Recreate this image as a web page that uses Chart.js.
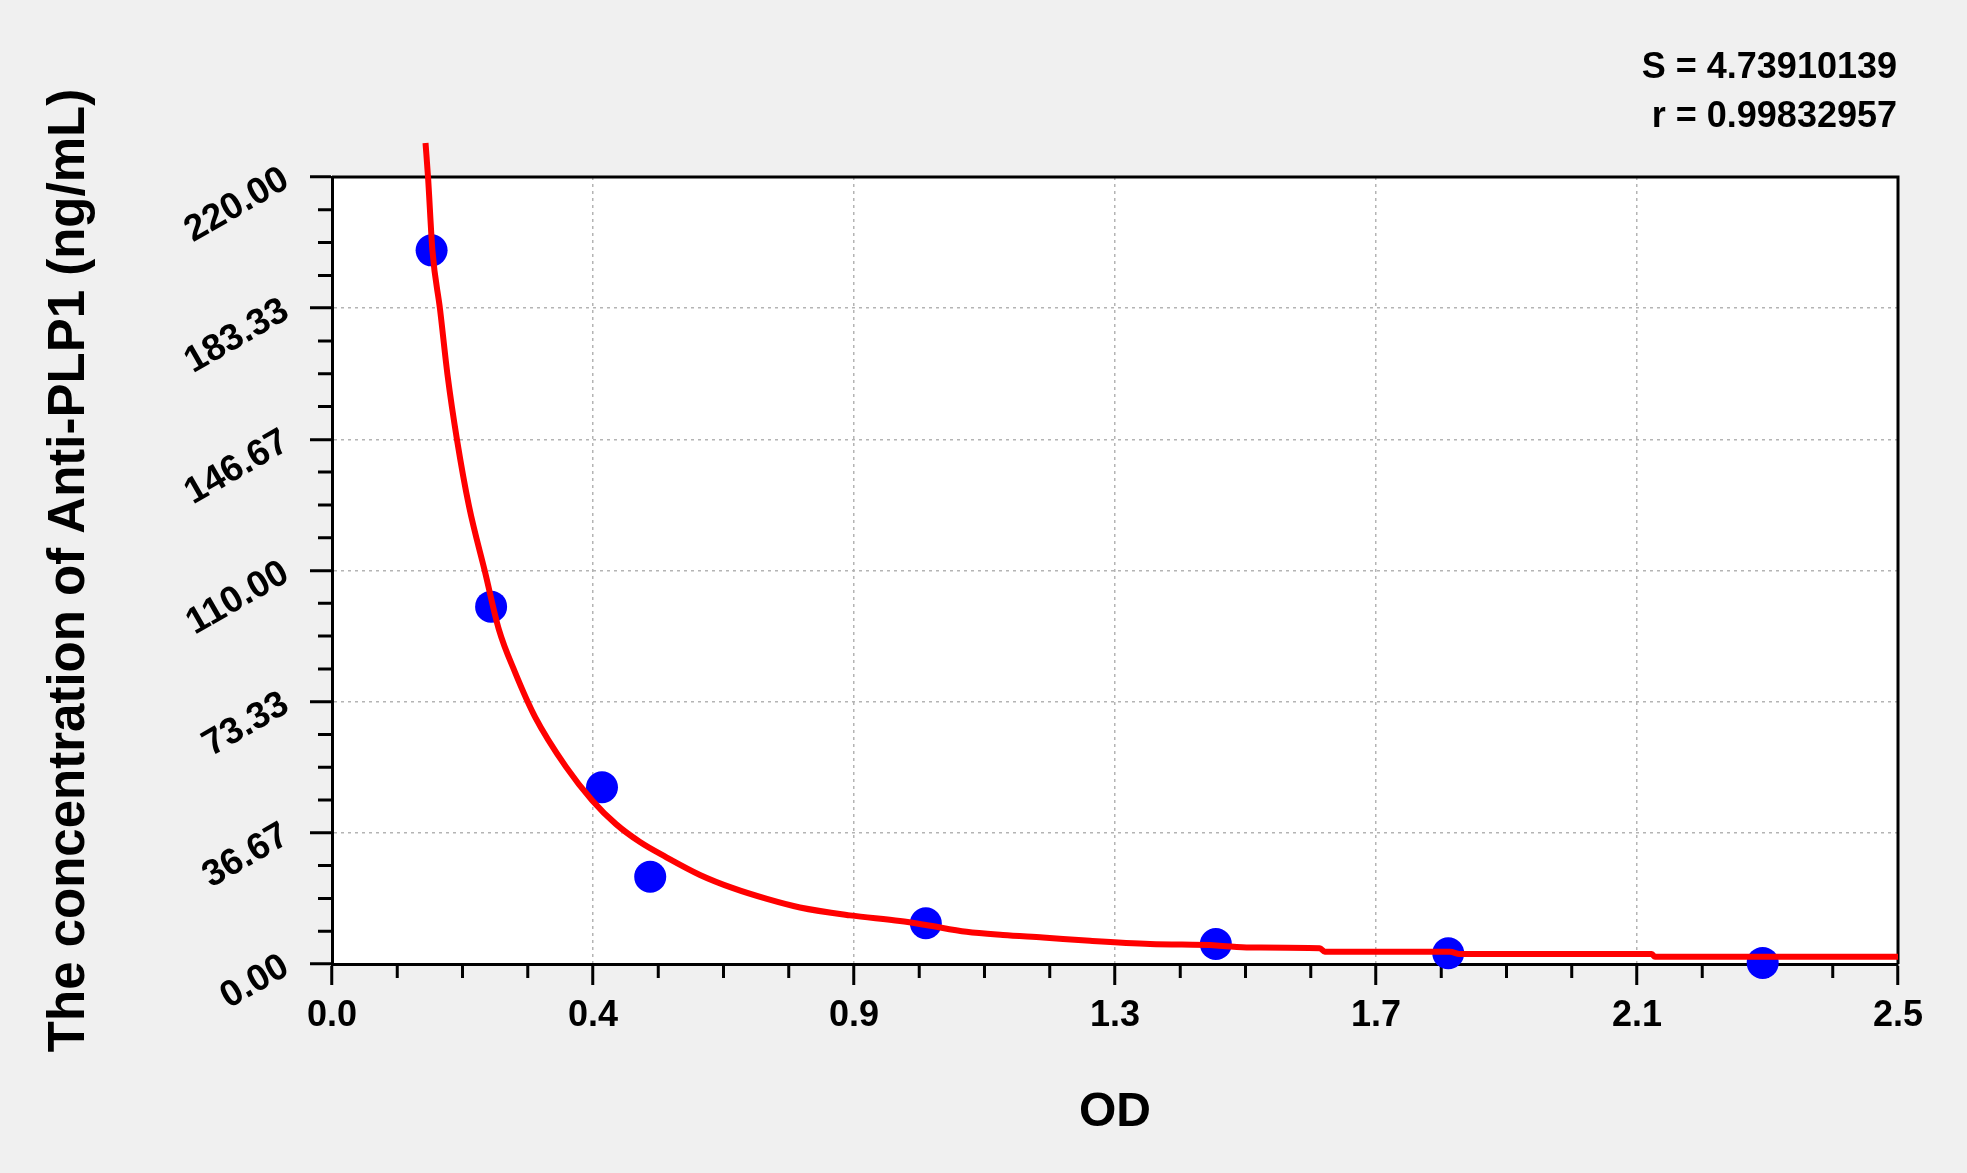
<!DOCTYPE html>
<html>
<head>
<meta charset="utf-8">
<title>Anti-PLP1 standard curve</title>
<script src="https://cdn.jsdelivr.net/npm/chart.js@4.4.1/dist/chart.umd.min.js"></script>
<style>
  html, body { margin: 0; padding: 0; background: #f0f0f0; }
  #wrap { width: 1967px; height: 1173px; }
</style>
</head>
<body>
<div id="wrap"><canvas id="curveChart" width="1967" height="1173"></canvas></div>
<script>
// standards (OD vs concentration)
const odValues = [0.159, 0.254, 0.431, 0.508, 0.948, 1.411, 1.782, 2.284]
const concValues = [199.5, 99.9, 49.4, 24.4, 11.4, 5.6, 3.0, 0.3]

// fitted curve, sampled along the red line
const fitOd = [0.1493, 0.1533, 0.1604, 0.1724, 0.1844, 0.1996, 0.2187, 0.2443, 0.2666, 0.2921, 0.3241,
    0.3736, 0.4151, 0.4534, 0.4917, 0.5332, 0.5875, 0.6402, 0.6944, 0.7471, 0.827, 0.9068, 0.948,
    1.013, 1.071, 1.135, 1.21, 1.306, 1.412, 1.466, 1.577, 1.585, 1.785, 1.8, 2.107, 2.112, 2.5]
const fitConc = [229.5, 220.0, 199.3, 183.1, 164.7, 146.5, 128.0, 109.6, 93.4, 81.6, 69.1,
    55.1, 45.8, 39.1, 34.1, 29.9, 24.9, 21.2, 18.2, 15.8, 13.6, 12.0, 10.9,
    9.0, 8.1, 7.4, 6.5, 5.6, 5.2, 4.6, 4.4, 3.4, 3.4, 2.8, 2.8, 2.0, 2.0]

const xTickValues = [0, 0.4167, 0.8333, 1.25, 1.6667, 2.0833, 2.5]
const xTickLabels = ['0.0', '0.4', '0.9', '1.3', '1.7', '2.1', '2.5']
const yTickValues = [0, 36.667, 73.333, 110, 146.667, 183.333, 220]
const yTickLabels = ['0.00', '36.67', '73.33', '110.00', '146.67', '183.33', '220.00']
const fitStats = ['S = 4.73910139', 'r = 0.99832957']

const FONT = "'Liberation Sans', Arial, sans-serif"

// white plot area, minor ticks, top/right frame and the S / r text
const plotDecor = {
    id: 'plotDecor',
    beforeDraw(chart) {
        const { ctx, chartArea: a } = chart
        ctx.save()
        ctx.fillStyle = '#ffffff'
        ctx.fillRect(a.left, a.top, a.width, a.height)
        ctx.restore()
    },
    beforeDatasetsDraw(chart) {
        const { ctx, chartArea: a, scales: { x, y } } = chart
        ctx.save()
        ctx.strokeStyle = '#000'
        ctx.lineWidth = 3
        ctx.beginPath()
        for (let i = 0; i < xTickValues.length - 1; i++) {
            const step = (xTickValues[i + 1] - xTickValues[i]) / 4
            for (let k = 1; k < 4; k++) {
                const px = x.getPixelForValue(xTickValues[i] + step * k)
                ctx.moveTo(px, a.bottom)
                ctx.lineTo(px, a.bottom + 14)
            }
        }
        for (let i = 0; i < yTickValues.length - 1; i++) {
            const step = (yTickValues[i + 1] - yTickValues[i]) / 4
            for (let k = 1; k < 4; k++) {
                const py = y.getPixelForValue(yTickValues[i] + step * k)
                ctx.moveTo(a.left, py)
                ctx.lineTo(a.left - 14, py)
            }
        }
        ctx.stroke()
        ctx.beginPath()
        ctx.moveTo(a.left, a.top)
        ctx.lineTo(a.right, a.top)
        ctx.lineTo(a.right, a.bottom)
        ctx.stroke()

        ctx.fillStyle = '#000'
        ctx.font = 'bold 36px ' + FONT
        ctx.textAlign = 'right'
        ctx.textBaseline = 'alphabetic'
        ctx.fillText(fitStats[0], a.right - 1, 78)
        ctx.fillText(fitStats[1], a.right - 1, 127)
        ctx.restore()
    }
}

document.addEventListener('DOMContentLoaded', () => {
    const cv = document.getElementById('curveChart').getContext('2d')

    const curveChart = new Chart(cv, {
        type: 'scatter',
        data: {
            datasets: [
                {
                    label: 'fit',
                    data: fitOd.map((v, i) => ({ x: v, y: fitConc[i] })),
                    showLine: true,
                    borderColor: '#ff0000',
                    borderWidth: 6,
                    pointRadius: 0,
                    cubicInterpolationMode: 'monotone',
                    clip: false,
                    order: 0
                },
                {
                    label: 'standards',
                    data: odValues.map((v, i) => ({ x: v, y: concValues[i] })),
                    backgroundColor: '#0000ff',
                    borderWidth: 0,
                    pointRadius: 16,
                    clip: false,
                    order: 1
                }
            ]
        },
        options: {
            responsive: false,
            animation: false,
            layout: { padding: { top: 177, right: 69, left: 0, bottom: 0 } },
            plugins: {
                legend: { display: false },
                tooltip: { enabled: false }
            },
            scales: {
                x: {
                    type: 'linear',
                    min: 0,
                    max: 2.5,
                    afterBuildTicks: (s) => { s.ticks = xTickValues.map(v => ({ value: v })) },
                    afterFit: (s) => { s.height = 209 },
                    ticks: {
                        color: '#000',
                        padding: 9,
                        font: { family: FONT, size: 36, weight: 'bold' },
                        callback: (v, i) => xTickLabels[i]
                    },
                    grid: { color: '#b4b4b4', lineWidth: 1.5, tickColor: '#000', tickWidth: 3, tickLength: 21 },
                    border: { color: '#000', width: 3, dash: [3, 4] },
                    title: {
                        display: true,
                        text: 'OD',
                        color: '#000',
                        font: { family: FONT, size: 48, weight: 'bold' },
                        padding: { top: 0, bottom: 31 }
                    }
                },
                y: {
                    type: 'linear',
                    min: 0,
                    max: 220,
                    afterBuildTicks: (s) => { s.ticks = yTickValues.map(v => ({ value: v })) },
                    afterFit: (s) => { s.width = 332 },
                    ticks: {
                        color: '#000',
                        padding: 24,
                        minRotation: 30,
                        maxRotation: 30,
                        font: { family: FONT, size: 37, weight: 'bold' },
                        callback: (v, i) => yTickLabels[i]
                    },
                    grid: { color: '#b4b4b4', lineWidth: 1.5, tickColor: '#000', tickWidth: 3, tickLength: 22 },
                    border: { color: '#000', width: 3, dash: [3, 4] },
                    title: {
                        display: true,
                        text: 'The concentration of Anti-PLP1 (ng/mL)',
                        color: '#000',
                        font: { family: FONT, size: 51, weight: 'bold' },
                        padding: { top: 39, bottom: 0 }
                    }
                }
            }
        },
        plugins: [plotDecor]
    })
})
</script>
</body>
</html>
